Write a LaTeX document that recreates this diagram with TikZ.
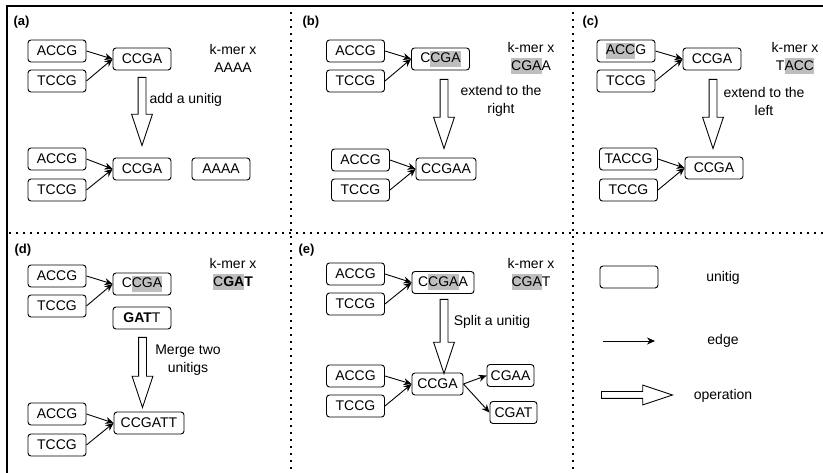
\documentclass[tikz,border=0pt]{standalone}
\usepackage{fontspec}
\setmainfont{Liberation Sans}
\usetikzlibrary{shapes.arrows,arrows.meta}
\definecolor{hlgray}{RGB}{190,190,190}
\newcommand{\hl}[1]{{\setlength{\fboxsep}{0pt}\colorbox{hlgray}{\rule[-4pt]{0pt}{16pt}#1}}}

\begin{document}
\begin{tikzpicture}[x=1pt, y=-1pt,
   every node/.style={font=\fontsize{14}{18}\selectfont},
   unitig/.style={draw, rounded corners=3pt, line width=0.9pt, minimum width=58pt, minimum height=22pt, inner sep=2pt},
   edge/.style={line width=0.9pt, -{Stealth[length=8pt,width=7pt]}},
   oper/.style={single arrow, draw, fill=white, line width=0.9pt, inner sep=3.5pt,
     single arrow head extend=6.5pt, single arrow tip angle=37, anchor=tail},
   lbl/.style={font=\fontsize{13}{15}\selectfont\bfseries, anchor=west},
   sep/.style={line width=2pt, dash pattern=on 2pt off 5pt}]
   \useasboundingbox (0,0) rectangle (823,473);
   % frame
   \draw[line width=1.2pt] (6,6) -- (823,6);
   \draw[line width=1.2pt] (7,6) -- (7,473);
   \draw[sep] (291,12) -- (291,473);
   \draw[sep] (573,12) -- (573,473);
   \draw[sep] (9,233) -- (823,233);
   % (a)
   \node[lbl] (la) at (10,22) {(a)};
   \node[unitig] (accgA) at (57,51) {ACCG};
   \node[unitig] (tccgA) at (57,81) {TCCG};
   \node[unitig] (ccgaA) at (142,59) {CCGA};
   \node[align=center] (kmerA) at (233,58) {k-mer x\\AAAA};
   \node[oper, rotate=-90, minimum height=68pt] (opA) at (142,77) {};
   \node[anchor=west] (txtA) at (146,100) {add a unitig};
   \node[unitig] (accgA2) at (57,159) {ACCG};
   \node[unitig] (tccgA2) at (57,190) {TCCG};
   \node[unitig] (ccgaA2) at (142,169) {CCGA};
   \node[unitig] (aaaaA) at (221,169) {AAAA};
   \draw[edge] (accgA.east) -- (ccgaA.west);
   \draw[edge] (tccgA.east) -- (ccgaA.west);
   \draw[edge] (accgA2.east) -- (ccgaA2.west);
   \draw[edge] (tccgA2.east) -- (ccgaA2.west);
   % (b)
   \node[lbl] (lb) at (299,22) {(b)};
   \node[unitig] (accgB) at (355.5,51) {ACCG};
   \node[unitig] (tccgB) at (355.5,81) {TCCG};
   \node[unitig] (ccgaB) at (440.5,59) {C\hl{CGA}};
   \node[align=center] (kmerB) at (531,58) {k-mer x\\\hl{CGA}A};
   \node[oper, rotate=-90, minimum height=69pt] (opB) at (444,79) {};
   \node[align=center] (txtB) at (501,101) {extend to the\\right};
   \node[unitig] (accgB2) at (360.5,160) {ACCG};
   \node[unitig] (tccgB2) at (360.5,190) {TCCG};
   \node[unitig, minimum width=60pt] (ccgaaB) at (446,169) {CCGAA};
   \draw[edge] (accgB.east) -- (ccgaB.west);
   \draw[edge] (tccgB.east) -- (ccgaB.west);
   \draw[edge] (accgB2.east) -- (ccgaaB.west);
   \draw[edge] (tccgB2.east) -- (ccgaaB.west);
   % (c)
   \node[lbl] (lc) at (579,22) {(c)};
   \node[unitig] (accgC) at (626,51) {\hl{ACC}G};
   \node[unitig] (tccgC) at (626,81) {TCCG};
   \node[unitig] (ccgaC) at (712,59) {CCGA};
   \node[align=center] (kmerC) at (795,58) {k-mer x\\T\hl{ACC}};
   \node[oper, rotate=-90, minimum height=69pt] (opC) at (713,79) {};
   \node[align=center] (txtC) at (764,101) {extend to the\\left};
   \node[unitig] (taccgC) at (628.5,159) {TACCG};
   \node[unitig] (tccgC2) at (628.5,190) {TCCG};
   \node[unitig] (ccgaC2) at (714,168) {CCGA};
   \draw[edge] (accgC.east) -- (ccgaC.west);
   \draw[edge] (tccgC.east) -- (ccgaC.west);
   \draw[edge] (taccgC.east) -- (ccgaC2.west);
   \draw[edge] (tccgC2.east) -- (ccgaC2.west);
   % (d)
   \node[lbl] (ld) at (11,250) {(d)};
   \node[unitig] (accgD) at (57,276) {ACCG};
   \node[unitig] (tccgD) at (57,306) {TCCG};
   \node[unitig] (ccgaD) at (142,284) {C\hl{CGA}};
   \node[unitig] (gattD) at (142,318) {\textbf{GAT}T};
   \node[align=center] (kmerD) at (233,274) {k-mer x\\\hl{C\textbf{GA}}\textbf{T}};
   \node[oper, rotate=-90, minimum height=70pt] (opD) at (142.5,337) {};
   \node[align=center] (txtD) at (188,360) {Merge two\\unitigs};
   \node[unitig] (accgD2) at (57,414) {ACCG};
   \node[unitig] (tccgD2) at (57,445) {TCCG};
   \node[unitig, minimum width=70pt] (ccgattD) at (149,423) {CCGATT};
   \draw[edge] (accgD.east) -- (ccgaD.west);
   \draw[edge] (tccgD.east) -- (ccgaD.west);
   \draw[edge] (accgD2.east) -- (ccgattD.west);
   \draw[edge] (tccgD2.east) -- (ccgattD.west);
   % (e)
   \node[lbl] (le) at (295,250) {(e)};
   \node[unitig] (accgE) at (355.5,274) {ACCG};
   \node[unitig] (tccgE) at (355.5,304) {TCCG};
   \node[unitig, minimum width=62pt] (ccgaaE) at (443,282.5) {C\hl{CGA}A};
   \node[align=center] (kmerE) at (531,274) {k-mer x\\\hl{CGA}T};
   \node[oper, rotate=-90, minimum height=74pt] (opE) at (444,299) {};
   \node (txtE) at (492,322) {Split a unitig};
   \node[unitig] (accgE2) at (355.5,376) {ACCG};
   \node[unitig] (tccgE2) at (355.5,406) {TCCG};
   \node[unitig, minimum width=51pt] (ccgaE2) at (437.5,384) {CCGA};
   \node[unitig, minimum width=47pt] (cgaaE) at (510.5,375.5) {CGAA};
   \node[unitig, minimum width=47pt] (cgatE) at (513.5,412.5) {CGAT};
   \draw[edge] (accgE.east) -- (ccgaaE.west);
   \draw[edge] (tccgE.east) -- (ccgaaE.west);
   \draw[edge] (accgE2.east) -- (ccgaE2.west);
   \draw[edge] (tccgE2.east) -- (ccgaE2.west);
   \draw[edge] (ccgaE2.east) -- (cgaaE.west);
   \draw[edge] (ccgaE2.east) -- (cgatE.west);
   % legend
   \node[unitig] (keyU) at (629,277) {};
   \node (txtU) at (723,278) {unitig};
   \coordinate (edgeS) at (603,341);
   \coordinate (edgeE) at (655,341);
   \draw[edge] (edgeS) -- (edgeE);
   \node (txtEd) at (723,341) {edge};
   \node[oper, inner sep=3pt, single arrow head extend=6.5pt, minimum height=71pt] (opKey) at (601,395) {};
   \node (txtOp) at (723,396) {operation};
\end{tikzpicture}
\end{document}
